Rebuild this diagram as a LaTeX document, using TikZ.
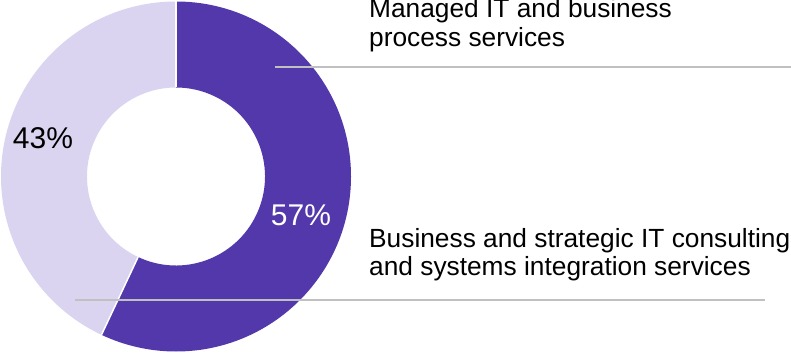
\documentclass[tikz,border=0pt]{standalone}
\usepackage{fontspec}
\setmainfont{Liberation Sans}
\usetikzlibrary{positioning}
\definecolor{darkslice}{RGB}{82,56,170}
\definecolor{lightslice}{RGB}{218,212,240}
\definecolor{leadgray}{RGB}{192,192,192}
\tikzset{legend/.style={anchor=base west, align=left, inner sep=0pt, font=\fontsize{26.3}{29}\selectfont},
         share/.style={anchor=base, inner sep=0pt, font=\fontsize{30}{33}\selectfont},
         leaderline/.style={draw=leadgray, line width=2pt},
         slicegap/.style={draw=white, line width=1.5pt},
        }

\begin{document}
\begin{tikzpicture}[x=1pt,y=1pt]
        \useasboundingbox (0,0) rectangle (791,353);
        \begin{scope}[shift={(176,176.5)}]
            \fill[lightslice] (90:175) arc[start angle=90,end angle=244.8,radius=175] -- (244.8:89) arc[start angle=244.8,end angle=90,radius=89] -- cycle;
            \fill[darkslice] (90:175) arc[start angle=90,end angle=-115.2,radius=175] -- (-115.2:89) arc[start angle=-115.2,end angle=90,radius=89] -- cycle;
            \draw[slicegap] (90:89) -- (90:175);
            \draw[slicegap] (244.8:89) -- (244.8:175);
        \end{scope}

        \node[share](light)at(43,204){43\%};
        \node[share, text=white](dark)at(301,127){57\%};
        \node[legend](managed)at(369,306){Managed IT and business\\process services};
        \node[legend](consulting)at(369,77){Business and strategic IT consulting\\and systems integration services};

        \coordinate(m1)at(275,286);
        \coordinate(m2)at(791,286);
        \coordinate(c1)at(75,53);
        \coordinate(c2)at(765,53);
        \draw[leaderline](m1)--(m2);
        \draw[leaderline](c1)--(c2);
    \end{tikzpicture}
\end{document}
